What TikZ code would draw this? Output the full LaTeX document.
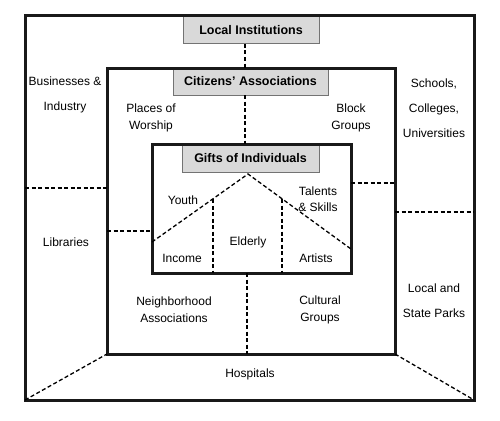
\documentclass[tikz,border=0pt]{standalone}
\usepackage{fontspec}
\setmainfont{Liberation Sans}
\usetikzlibrary{calc}
\begin{document}
\begin{tikzpicture}[x=1pt,y=-1pt,
  frame/.style={draw=black!90, line width=3pt, inner sep=0pt, outer sep=0pt, rectangle},
  tag/.style={draw=black!55, fill=black!15, line width=1pt, font=\fontsize{12.5}{15}\selectfont\bfseries, inner sep=0pt, outer sep=0pt},
  lbl/.style={font=\fontsize{12}{17}\selectfont, align=center, inner sep=0pt},
  wide/.style={font=\fontsize{12}{25}\selectfont},
  dsh/.style={line width=1.3pt, dash pattern=on 4pt off 2.5pt}]
\path[use as bounding box] (0,0) rectangle (500,420);
% tags (drawn first so that the frames overlay their edges)
\node[tag, minimum width=136pt, minimum height=28pt] (li) at (251,30) {Local Institutions};
\node[tag, minimum width=155pt, minimum height=27pt] (ca) at (250.5,81.5) {Citizens\char"27\ Associations};
\node[tag, minimum width=137pt, minimum height=28pt] (gi) at (250.5,158) {Gifts of Individuals};
% frames
\node[frame, minimum width=449pt, minimum height=384pt] (outer) at (249.5,208) {};
\node[frame, minimum width=288pt, minimum height=286pt] (middle) at (251,211) {};
\node[frame, minimum width=199pt, minimum height=129pt] (inner) at (251.5,208.5) {};
% helper coordinates
\coordinate (v1) at (245,0);
\coordinate (v2) at (247,0);
\coordinate (h1) at (0,188);
\coordinate (h2) at (0,231);
\coordinate (h3) at (0,183);
\coordinate (h4) at (0,212);
\coordinate (rl) at (152,242);
\coordinate (apex) at (248,174);
\coordinate (rr) at (351,249);
\coordinate (p1) at (213,199);
\coordinate (p2) at (282,199);
% dashed connectors
\draw[dsh] (li.south -| v1) -- (ca.north -| v1);
\draw[dsh] (ca.south -| v1) -- (gi.north -| v1);
\draw[dsh] (inner.south -| v2) -- (middle.south -| v2);
\draw[dsh] (outer.west |- h1) -- (middle.west |- h1);
\draw[dsh] (middle.west |- h2) -- (inner.west |- h2);
\draw[dsh] (inner.east |- h3) -- (middle.east |- h3);
\draw[dsh] (middle.east |- h4) -- (outer.east |- h4);
\draw[dsh] (outer.south west) -- (middle.south west);
\draw[dsh] (middle.south east) -- (outer.south east);
\draw[dsh] (rl) -- (apex) -- (rr);
\draw[dsh] (p1) -- (inner.south -| p1);
\draw[dsh] (p2) -- (inner.south -| p2);
% labels
\node[lbl, wide] (bus) at (65,95) {Businesses \&\\Industry};
\node[lbl, wide] (sch) at (434,108) {Schools,\\Colleges,\\Universities};
\node[lbl, wide] (prk) at (434,301) {Local and\\State Parks};
\node[lbl] (lib) at (66,242) {Libraries};
\node[lbl] (hos) at (250,374) {Hospitals};
\node[lbl] (pow) at (151,118) {Places of\\Worship};
\node[lbl] (blk) at (351,118) {Block\\Groups};
\node[lbl] (nba) at (174,310) {Neighborhood\\Associations};
\node[lbl] (cul) at (320,310) {Cultural\\Groups};
\node[lbl] (you) at (183,200) {Youth};
\node[lbl, font=\fontsize{12}{16}\selectfont] (tal) at (318,199.5) {Talents\\\& Skills};
\node[lbl] (eld) at (248,242) {Elderly};
\node[lbl] (inc) at (182,258) {Income};
\node[lbl] (art) at (316,258) {Artists};
\end{tikzpicture}
\end{document}
